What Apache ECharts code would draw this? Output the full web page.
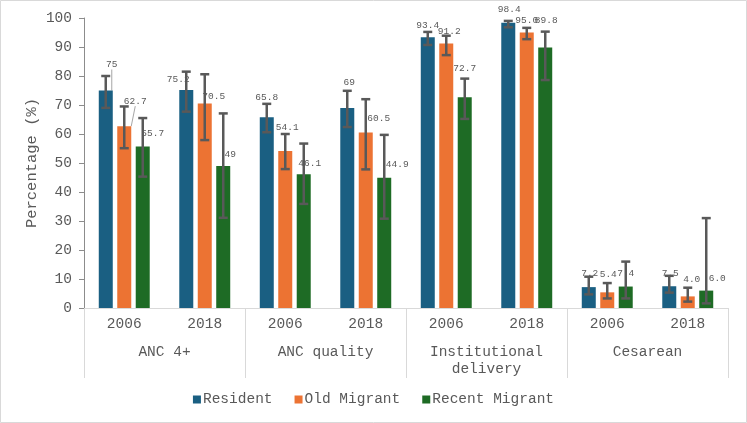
<!DOCTYPE html>
<html>
<head>
<meta charset="utf-8">
<script src="https://cdn.jsdelivr.net/npm/echarts@6/dist/echarts.min.js"></script>
<style>
  html, body { margin: 0; padding: 0; background: #fff; }
  #chart { width: 747px; height: 423px; }
</style>
</head>
<body>
<div id="chart"></div>
<script>
// categories
var years = ['2006', '2018', '2006', '2018', '2006', '2018', '2006', '2018']
var groups = ['ANC 4+', 'ANC quality', 'Institutional\ndelivery', 'Cesarean']
var seriesNames = ['Resident', 'Old Migrant', 'Recent Migrant']

// bar values
var resident = [75, 75.2, 65.8, 69, 93.4, 98.4, 7.2, 7.5]
var oldMigrant = [62.7, 70.5, 54.1, 60.5, 91.2, 95.0, 5.4, 4.0]
var recentMigrant = [55.7, 49, 46.1, 44.9, 72.7, 89.8, 7.4, 6.0]

// label texts as printed
var residentText = ['75', '75.2', '65.8', '69', '93.4', '98.4', '7.2', '7.5']
var oldText = ['62.7', '70.5', '54.1', '60.5', '91.2', '95.0', '5.4', '4.0']
var recentText = ['55.7', '49', '46.1', '44.9', '72.7', '89.8', '7.4', '6.0']

// error bar ranges
var residentLow = [69.0, 67.7, 60.6, 62.4, 90.7, 96.8, 4.7, 5.3]
var residentHigh = [80.0, 81.5, 70.4, 74.9, 95.2, 99.0, 10.8, 11.1]
var oldLow = [55.1, 57.9, 47.9, 47.8, 87.2, 92.7, 3.3, 2.2]
var oldHigh = [69.5, 80.6, 60.0, 72.0, 93.9, 96.6, 8.6, 7.0]
var recentLow = [45.3, 31.1, 35.9, 30.8, 65.2, 78.6, 3.3, 1.6]
var recentHigh = [65.5, 67.1, 56.7, 59.7, 79.1, 95.3, 16.0, 31.0]

// label nudges (px) and which labels get a leader line
var residentShift = [[6, -21], [-8, -5], [0, -15], [2, -20], [0, -7], [1, -8], [1, -9], [1, -8]]
var oldShift = [[11, -20], [9, -2], [2, -19], [13, -9], [3, -7], [0, -7], [1, -13], [4, -12]]
var recentShift = [[10, -8], [7, -6], [6, -6], [13, -8], [0, -24], [1, -22], [0, -8], [11, -7]]
var residentLeader = [true, false, false, false, false, false, false, false]
var oldLeader = [true, false, false, false, false, false, false, false]

var colors = ['#1a5f82', '#ec7333', '#1e6b25']
var font = '"Liberation Mono", "DejaVu Sans Mono", monospace'
var textColor = '#595959'
var barStep = 18.5

var chart = echarts.init(document.getElementById('chart'))

function barSeries(name, values, texts, shifts, leaders, color) {
  return {
    name: name,
    type: 'bar',
    barWidth: 14,
    barGap: '32%',
    itemStyle: { color: color },
    data: values.map(function (v, i) {
      return { value: v, labelLine: { show: !!(leaders && leaders[i]) } }
    }),
    label: {
      show: true,
      position: 'top',
      distance: 0,
      fontFamily: font,
      fontSize: 9.5,
      color: textColor,
      formatter: function (p) { return texts[p.dataIndex] }
    },
    labelLine: {
      show: false,
      lineStyle: { color: '#a6a6a6', width: 1 }
    },
    labelLayout: function (p) {
      var s = shifts[p.dataIndex]
      return { dx: s[0], dy: s[1] }
    }
  }
}

function errorSeries(shift, lows, highs) {
  return {
    type: 'custom',
    z: 5,
    silent: true,
    renderItem: function (params, api) {
      var i = api.value(0)
      var lo = api.coord([i, api.value(1)])
      var hi = api.coord([i, api.value(2)])
      var x = lo[0] + shift
      var half = 4.5
      var style = { stroke: '#595959', lineWidth: 2.5 }
      return {
        type: 'group',
        children: [
          { type: 'line', shape: { x1: x, y1: hi[1], x2: x, y2: lo[1] }, style: style },
          { type: 'line', shape: { x1: x - half, y1: hi[1], x2: x + half, y2: hi[1] }, style: style },
          { type: 'line', shape: { x1: x - half, y1: lo[1], x2: x + half, y2: lo[1] }, style: style }
        ]
      }
    },
    encode: { x: 0, y: [1, 2] },
    data: lows.map(function (l, i) { return [i, l, highs[i]] })
  }
}

chart.setOption({
  backgroundColor: '#fff',
  animation: false,
  color: colors,
  textStyle: { fontFamily: font },
  graphic: [{
    type: 'rect',
    shape: { x: 0.5, y: 0.5, width: 746, height: 422 },
    style: { fill: null, stroke: '#d9d9d9', lineWidth: 1 }
  }],
  legend: {
    data: seriesNames,
    left: 'center',
    top: 387,
    icon: 'rect',
    itemWidth: 8,
    itemHeight: 8,
    itemGap: 22,
    textStyle: { fontFamily: font, fontSize: 14.5, color: textColor, padding: [0, 0, 0, -3] }
  },
  grid: {
    left: 84,
    right: 19,
    top: 18,
    bottom: 115
  },
  xAxis: [{
    type: 'category',
    data: years,
    position: 'bottom',
    axisLine: { lineStyle: { color: '#d9d9d9' } },
    axisTick: { show: false },
    axisLabel: { color: textColor, fontFamily: font, fontSize: 14.5, margin: 9, interval: 0 }
  }, {
    type: 'category',
    data: groups,
    position: 'bottom',
    axisLine: { show: false },
    axisTick: { show: true, length: 70, interval: 0, lineStyle: { color: '#d9d9d9' } },
    axisLabel: { color: textColor, fontFamily: font, fontSize: 14.5, margin: 36, interval: 0, lineHeight: 17 }
  }],
  yAxis: {
    type: 'value',
    min: 0,
    max: 100,
    interval: 10,
    name: 'Percentage (%)',
    nameLocation: 'middle',
    nameGap: 44,
    nameMoveOverlap: false,
    nameTextStyle: { color: textColor, fontFamily: font, fontSize: 15.5 },
    axisLine: { show: true, lineStyle: { color: '#8c8c8c' } },
    axisTick: { show: true, length: 5, lineStyle: { color: '#8c8c8c' } },
    axisLabel: { color: textColor, fontFamily: font, fontSize: 14.5, margin: 12 },
    splitLine: { show: false }
  },
  series: [
    barSeries('Resident', resident, residentText, residentShift, residentLeader, colors[0]),
    barSeries('Old Migrant', oldMigrant, oldText, oldShift, oldLeader, colors[1]),
    barSeries('Recent Migrant', recentMigrant, recentText, recentShift, null, colors[2]),
    errorSeries(-barStep, residentLow, residentHigh),
    errorSeries(0, oldLow, oldHigh),
    errorSeries(barStep, recentLow, recentHigh)
  ]
})
</script>
</body>
</html>
